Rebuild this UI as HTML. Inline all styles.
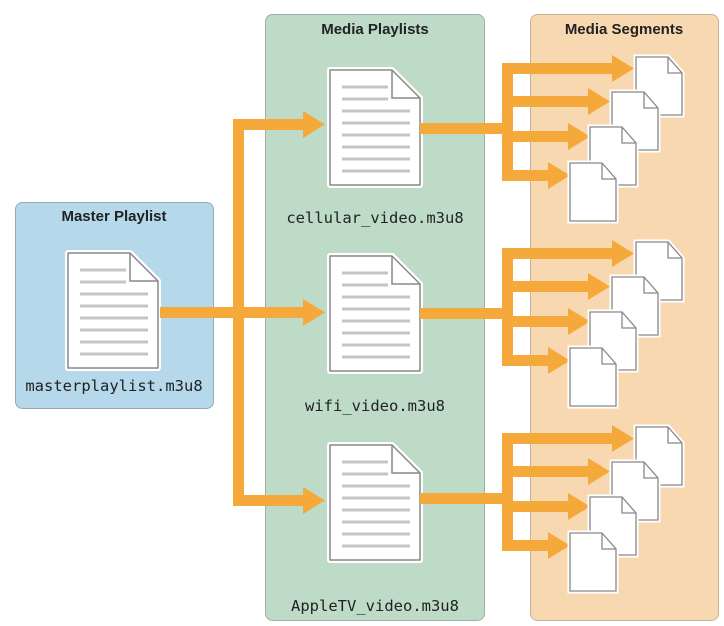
<!DOCTYPE html>
<html><head><meta charset="utf-8"><style>
body{margin:0;background:#fff}
svg{display:block}
text{font-family:"Liberation Sans",sans-serif}
.m{font-family:"DejaVu Sans Mono","Liberation Mono",monospace;font-size:15.5px;fill:#222}
.t{font-weight:bold;font-size:15px;fill:#222}
</style></head><body>
<svg width="724" height="626" viewBox="0 0 724 626" xmlns="http://www.w3.org/2000/svg">
<defs>
<g id="doc">
<path d="M0,0 H62 L90,28 V115 H0 Z" fill="#fff" stroke="#fff" stroke-width="6" stroke-linejoin="round"/>
<path d="M0,0 H62 L90,28 V115 H0 Z" fill="#fff" stroke="#888" stroke-width="1.5" stroke-linejoin="round"/>
<path d="M62,0 V28 H90" fill="none" stroke="#888" stroke-width="1.5"/>
<g stroke="#c4c4c4" stroke-width="3">
<line x1="12" y1="17" x2="58" y2="17"/><line x1="12" y1="29" x2="58" y2="29"/>
<line x1="12" y1="41" x2="80" y2="41"/><line x1="12" y1="53" x2="80" y2="53"/>
<line x1="12" y1="65" x2="80" y2="65"/><line x1="12" y1="77" x2="80" y2="77"/>
<line x1="12" y1="89" x2="80" y2="89"/><line x1="12" y1="101" x2="80" y2="101"/>
</g></g>
<g id="seg">
<path d="M0,0 H32 L46,16 V58 H0 Z" fill="#fff" stroke="#fff" stroke-width="5"/>
<path d="M0,0 H32 L46,16 V58 H0 Z" fill="#fff" stroke="#888" stroke-width="1.3"/>
<path d="M32,0 V16 H46" fill="none" stroke="#888" stroke-width="1.3"/>
</g>
<g id="fan">
<rect x="420" y="123" width="93" height="11" fill="#f5a93a"/>
<rect x="502" y="63" width="11" height="118" fill="#f5a93a"/>
<rect x="502" y="63" width="111" height="11" fill="#f5a93a"/><path d="M612,55 L634,68.5 L612,82 Z" fill="#f5a93a"/>
<rect x="502" y="96" width="87" height="11" fill="#f5a93a"/><path d="M588,88 L610,101.5 L588,115 Z" fill="#f5a93a"/>
<rect x="502" y="131" width="67" height="11" fill="#f5a93a"/><path d="M568,123 L590,136.5 L568,150 Z" fill="#f5a93a"/>
<rect x="502" y="170" width="47" height="11" fill="#f5a93a"/><path d="M548,162 L570,175.5 L548,189 Z" fill="#f5a93a"/>
<use href="#seg" x="636" y="57"/><use href="#seg" x="612" y="92"/>
<use href="#seg" x="590" y="127"/><use href="#seg" x="570" y="163"/>
</g>
</defs>
<rect x="15.5" y="202.5" width="198" height="206" rx="7" fill="#b5d8ea" stroke="#95a9b4"/>
<rect x="265.5" y="14.5" width="219" height="606" rx="7" fill="#bedbc7" stroke="#9fb1a4"/>
<rect x="530.5" y="14.5" width="188" height="606" rx="7" fill="#f8d8b0" stroke="#c9b194"/>
<text class="t" x="114" y="221" text-anchor="middle">Master Playlist</text>
<text class="t" x="375" y="34" text-anchor="middle">Media Playlists</text>
<text class="t" x="624" y="34" text-anchor="middle">Media Segments</text>
<use href="#doc" x="68" y="253"/>
<text class="m" x="114" y="391" text-anchor="middle">masterplaylist.m3u8</text>
<rect x="160" y="307" width="143" height="11" fill="#f5a93a"/>
<rect x="233" y="119" width="11" height="387" fill="#f5a93a"/>
<rect x="233" y="119" width="72" height="11" fill="#f5a93a"/>
<rect x="233" y="495" width="72" height="11" fill="#f5a93a"/>
<path d="M303,111 L325,124.5 L303,138 Z" fill="#f5a93a"/>
<path d="M303,299 L325,312.5 L303,326 Z" fill="#f5a93a"/>
<path d="M303,487 L325,500.5 L303,514 Z" fill="#f5a93a"/>
<use href="#doc" x="330" y="70"/>
<use href="#doc" x="330" y="256"/>
<use href="#doc" x="330" y="445"/>
<text class="m" x="375" y="223" text-anchor="middle">cellular_video.m3u8</text>
<text class="m" x="375" y="411" text-anchor="middle">wifi_video.m3u8</text>
<text class="m" x="375" y="611" text-anchor="middle">AppleTV_video.m3u8</text>
<use href="#fan"/>
<use href="#fan" y="185"/>
<use href="#fan" y="370"/>
</svg>
</body></html>
